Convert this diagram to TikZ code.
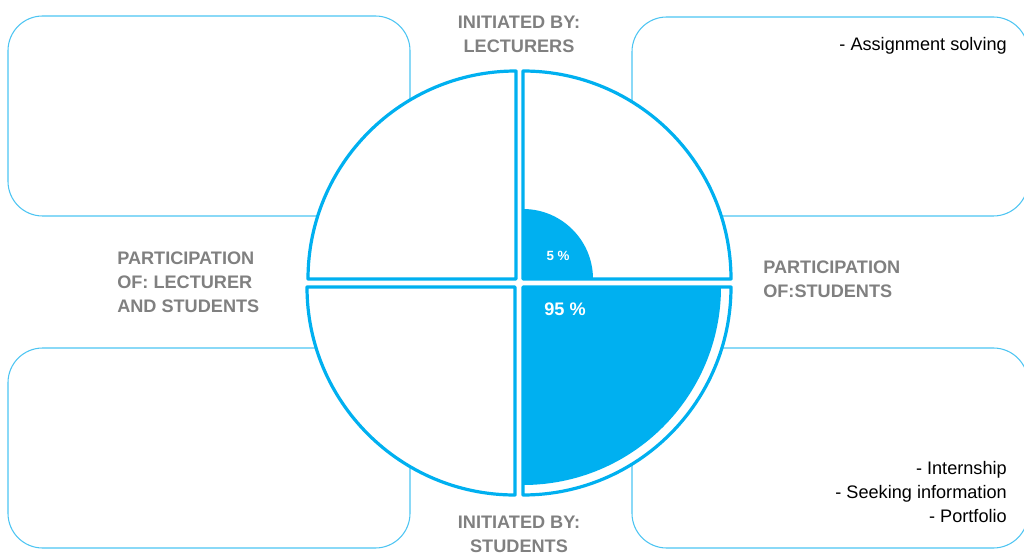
\documentclass[tikz,border=0pt]{standalone}
\usepackage{fontspec}
\setmainfont{Liberation Sans}
\definecolor{cyanx}{HTML}{00B0F0}
\definecolor{boxc}{HTML}{4CC4F2}
\definecolor{greyt}{HTML}{808080}
\tikzset{
  boxline/.style={draw=boxc, line width=0.8pt, rounded corners=26pt},
  quadfill/.style={fill=white},
  quadline/.style={draw=cyanx, line width=2.4pt, line join=round},
  wedge/.style={fill=cyanx},
  greylabel/.style={text=greyt, font=\fontsize{13.6}{18}\selectfont\bfseries, inner sep=0pt},
  blacklabel/.style={text=black, font=\fontsize{13.6}{18}\selectfont, inner sep=0pt, align=right},
  pct/.style={text=white, inner sep=0pt}
}
\begin{document}
\begin{tikzpicture}[x=0.75pt,y=0.75pt]
\useasboundingbox (0,0) rectangle (1024,554);
% background boxes
\draw[boxline] (8,338) rectangle (410,538);
\draw[boxline] (632,338) rectangle (1028,537);
\draw[boxline] (8,6) rectangle (410,206);
\draw[boxline] (632,6) rectangle (1028,206);
% quadrant fills
\coordinate (ctl) at (516,275);
\coordinate (ctr) at (523,275);
\coordinate (cbl) at (515,267);
\coordinate (cbr) at (523,267);
\fill[quadfill] (ctl) -- ++(-208,0) arc[start angle=180,end angle=90,radius=208] -- cycle;
\fill[quadfill] (ctr) -- ++(208,0) arc[start angle=0,end angle=90,radius=208] -- cycle;
\fill[quadfill] (cbl) -- ++(-208,0) arc[start angle=180,end angle=270,radius=208] -- cycle;
\fill[quadfill] (cbr) -- ++(208,0) arc[start angle=0,end angle=-90,radius=208] -- cycle;
% wedges
\fill[wedge] (ctr) -- ++(70,0) arc[start angle=0,end angle=90,radius=70] -- cycle;
\fill[wedge] (cbr) -- ++(198,0) arc[start angle=0,end angle=-90,radius=198] -- cycle;
% quadrant outlines
\draw[quadline] (ctl) -- ++(-208,0) arc[start angle=180,end angle=90,radius=208] -- cycle;
\draw[quadline] (ctr) -- ++(208,0) arc[start angle=0,end angle=90,radius=208] -- cycle;
\draw[quadline] (cbl) -- ++(-208,0) arc[start angle=180,end angle=270,radius=208] -- cycle;
\draw[quadline] (cbr) -- ++(208,0) arc[start angle=0,end angle=-90,radius=208] -- cycle;
% percentages
\node[pct, font=\fontsize{10}{12}\selectfont\bfseries] (p5) at (558,298) {5 \%};
\node[pct, font=\fontsize{13.6}{16}\selectfont\bfseries] (p95) at (565,245) {95 \%};
% labels
\node[greylabel, align=center] (ltop) at (519,520) {INITIATED BY:\\LECTURERS};
\node[greylabel, align=center] (lbot) at (519,20) {INITIATED BY:\\STUDENTS};
\node[greylabel, align=left, anchor=west] (lleft) at (117,272) {PARTICIPATION\\OF: LECTURER\\AND STUDENTS};
\node[greylabel, align=left, anchor=west] (lright) at (763,275) {PARTICIPATION\\OF:STUDENTS};
% lists
\node[blacklabel, anchor=east] (ltr) at (1007,508) {- Assignment solving};
\node[blacklabel, anchor=east] (lbr) at (1007,62) {- Internship\\- Seeking information\\- Portfolio};
\end{tikzpicture}
\end{document}
